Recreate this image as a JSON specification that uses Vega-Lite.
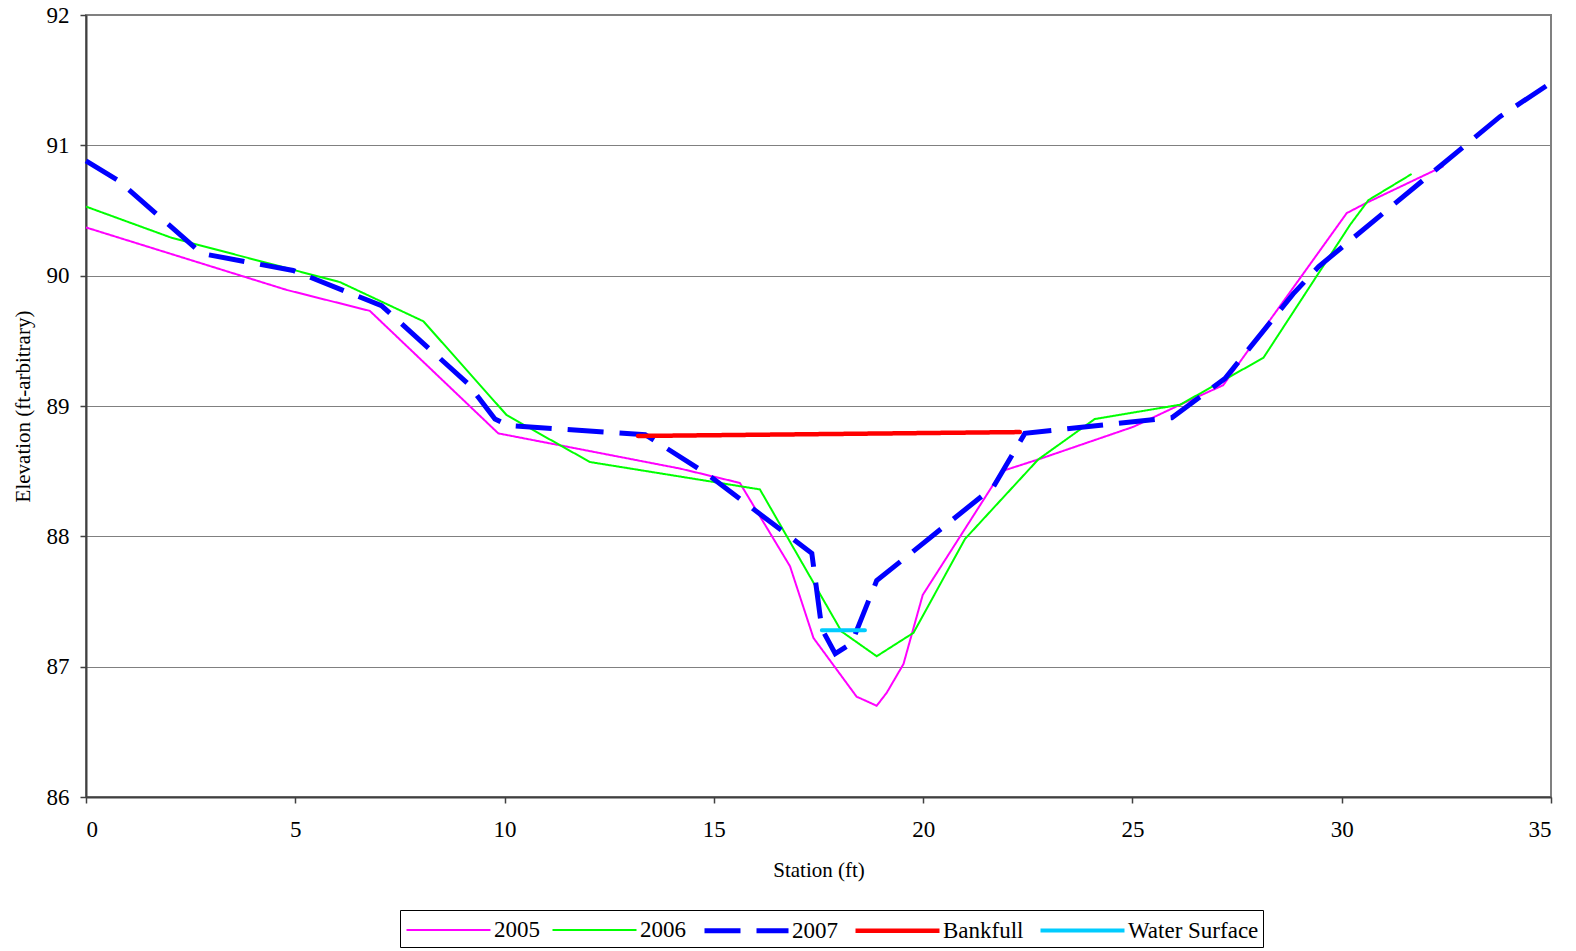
{
  "$schema": "https://vega.github.io/schema/vega-lite/v6.json",
  "width": 1465,
  "height": 782,
  "autosize": "none",
  "padding": {"left": 86, "top": 15, "right": 25, "bottom": 154},
  "background": "white",
  "config": {
    "font": "Liberation Serif",
    "view": {"stroke": "#808080", "strokeWidth": 2},
    "axis": {
      "labelFont": "Liberation Serif",
      "titleFont": "Liberation Serif",
      "labelFontSize": 23,
      "titleFontSize": 21,
      "labelColor": "black",
      "titleColor": "black",
      "titleFontWeight": "normal",
      "domainColor": "#404040",
      "domainWidth": 2,
      "tickColor": "#404040",
      "tickWidth": 1.5,
      "tickSize": 6
    },
    "legend": {
      "labelFont": "Liberation Serif",
      "labelFontSize": 23,
      "labelColor": "black"
    }
  },
  "data": {
    "values": [
      {"series": "2005", "station": 0, "elev": 90.37},
      {"series": "2005", "station": 4.8, "elev": 89.89},
      {"series": "2005", "station": 6.78, "elev": 89.73},
      {"series": "2005", "station": 9.85, "elev": 88.79},
      {"series": "2005", "station": 14.19, "elev": 88.52},
      {"series": "2005", "station": 15.62, "elev": 88.41},
      {"series": "2005", "station": 16.82, "elev": 87.77},
      {"series": "2005", "station": 17.38, "elev": 87.22},
      {"series": "2005", "station": 18.41, "elev": 86.77},
      {"series": "2005", "station": 18.89, "elev": 86.70},
      {"series": "2005", "station": 19.13, "elev": 86.80},
      {"series": "2005", "station": 19.53, "elev": 87.02},
      {"series": "2005", "station": 19.99, "elev": 87.55},
      {"series": "2005", "station": 21.88, "elev": 88.50},
      {"series": "2005", "station": 22.75, "elev": 88.59},
      {"series": "2005", "station": 25.02, "elev": 88.84},
      {"series": "2005", "station": 26.14, "elev": 89.01},
      {"series": "2005", "station": 27.17, "elev": 89.16},
      {"series": "2005", "station": 30.12, "elev": 90.48},
      {"series": "2005", "station": 30.6, "elev": 90.56},
      {"series": "2005", "station": 32.43, "elev": 90.84},
      {"series": "2006", "station": 0, "elev": 90.53},
      {"series": "2006", "station": 2.05, "elev": 90.29},
      {"series": "2006", "station": 6.07, "elev": 89.95},
      {"series": "2006", "station": 8.06, "elev": 89.65},
      {"series": "2006", "station": 10.05, "elev": 88.93},
      {"series": "2006", "station": 12.04, "elev": 88.57},
      {"series": "2006", "station": 16.1, "elev": 88.36},
      {"series": "2006", "station": 18.05, "elev": 87.27},
      {"series": "2006", "station": 18.89, "elev": 87.08},
      {"series": "2006", "station": 19.77, "elev": 87.26},
      {"series": "2006", "station": 21.0, "elev": 87.98},
      {"series": "2006", "station": 22.75, "elev": 88.59},
      {"series": "2006", "station": 24.1, "elev": 88.90},
      {"series": "2006", "station": 26.14, "elev": 89.01},
      {"series": "2006", "station": 28.13, "elev": 89.37},
      {"series": "2006", "station": 30.2, "elev": 90.39},
      {"series": "2006", "station": 30.64, "elev": 90.58},
      {"series": "2006", "station": 31.67, "elev": 90.78},
      {"series": "2007", "station": 0, "elev": 90.88},
      {"series": "2007", "station": 0.77, "elev": 90.73},
      {"series": "2007", "station": 2.76, "elev": 90.17},
      {"series": "2007", "station": 4.95, "elev": 90.04},
      {"series": "2007", "station": 7.06, "elev": 89.77},
      {"series": "2007", "station": 9.13, "elev": 89.17},
      {"series": "2007", "station": 9.77, "elev": 88.90},
      {"series": "2007", "station": 10.09, "elev": 88.85},
      {"series": "2007", "station": 13.36, "elev": 88.78},
      {"series": "2007", "station": 14.83, "elev": 88.48},
      {"series": "2007", "station": 17.34, "elev": 87.87},
      {"series": "2007", "station": 17.58, "elev": 87.29},
      {"series": "2007", "station": 17.9, "elev": 87.10},
      {"series": "2007", "station": 18.29, "elev": 87.18},
      {"series": "2007", "station": 18.89, "elev": 87.66},
      {"series": "2007", "station": 21.68, "elev": 88.38},
      {"series": "2007", "station": 22.43, "elev": 88.79},
      {"series": "2007", "station": 25.94, "elev": 88.91},
      {"series": "2007", "station": 27.21, "elev": 89.21},
      {"series": "2007", "station": 28.84, "elev": 89.86},
      {"series": "2007", "station": 29.45, "elev": 90.07},
      {"series": "2007", "station": 33.78, "elev": 91.22},
      {"series": "2007", "station": 35, "elev": 91.48},
      {"series": "Bankfull", "station": 13.19, "elev": 88.77},
      {"series": "Bankfull", "station": 22.31, "elev": 88.80},
      {"series": "Water Surface", "station": 17.58, "elev": 87.28},
      {"series": "Water Surface", "station": 18.61, "elev": 87.28}
    ]
  },
  "encoding": {
    "x": {
      "field": "station", "type": "quantitative",
      "scale": {"domain": [0, 35], "nice": false, "zero": false},
      "axis": {"values": [0, 5, 10, 15, 20, 25, 30, 35], "title": "Station (ft)", "grid": false, "labelPadding": 15, "titlePadding": 18}
    },
    "y": {
      "field": "elev", "type": "quantitative",
      "scale": {"domain": [86, 92], "nice": false, "zero": false},
      "axis": {"values": [86, 87, 88, 89, 90, 91, 92], "title": "Elevation (ft-arbitrary)", "grid": true, "gridColor": "#808080", "gridWidth": 1.2, "gridOpacity": 1, "labelPadding": 11, "titlePadding": 13}
    },
    "color": {
      "field": "series", "type": "nominal",
      "scale": {"domain": ["2005", "2006", "2007", "Bankfull", "Water Surface"], "range": ["#ff00ff", "#00ff00", "#0000ff", "#ff0000", "#00ccff"]},
      "legend": {
        "title": null,
        "orient": "none",
        "legendX": 314,
        "legendY": 895,
        "direction": "horizontal",
        "columns": 5,
        "symbolType": "M-3,0L3,0",
        "symbolSize": 784,
        "symbolOffset": 28,
        "labelOffset": 29,
        "columnPadding": 8,
        "padding": 4,
        "strokeColor": "black",
        "fillColor": "white"
      }
    },
    "strokeDash": {
      "field": "series", "type": "nominal",
      "scale": {"type": "ordinal", "domain": ["2005", "2006", "2007", "Bankfull", "Water Surface"], "range": [[1, 0], [1, 0], [36, 16], [1, 0], [1, 0]]}
    },
    "strokeWidth": {
      "field": "series", "type": "nominal",
      "scale": {"type": "ordinal", "domain": ["2005", "2006", "2007", "Bankfull", "Water Surface"], "range": [2, 2, 5, 4.5, 4]}
    }
  },
  "layer": [
    {
      "transform": [{"filter": "datum.series === '2005' || datum.series === '2006' || datum.series === '2007'"}],
      "mark": {"type": "line", "strokeCap": "butt", "strokeJoin": "miter"}
    },
    {
      "transform": [{"filter": "datum.series === 'Bankfull' || datum.series === 'Water Surface'"}],
      "mark": {"type": "line", "strokeCap": "round"}
    }
  ]
}
